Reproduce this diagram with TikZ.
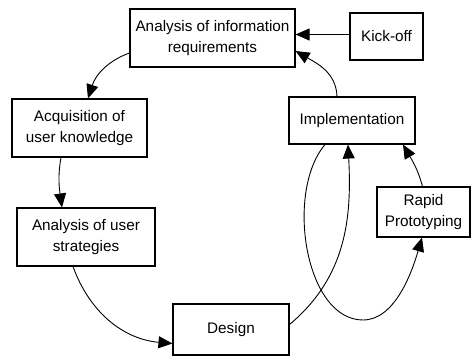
\documentclass[tikz,border=0pt]{standalone}
\usepackage{fontspec}
\setmainfont{Liberation Sans}
\usetikzlibrary{arrows.meta}
\begin{document}
\begin{tikzpicture}[x=1pt,y=1pt,
  box/.style={draw,line width=1.1pt,rectangle,align=center,inner sep=0pt,
    font=\fontsize{15.3}{21}\selectfont},
  conn/.style={line width=0.9pt,-{Triangle[length=14pt,width=12pt]}}]
\useasboundingbox (0,0) rectangle (472,357);
\node[box,minimum width=165pt,minimum height=58pt] (air) at (212.5,319) {Analysis of information\\requirements};
\node[box,minimum width=73pt,minimum height=47pt] (ko) at (386.5,320.5) {Kick-off};
\node[box,minimum width=135pt,minimum height=58pt] (acq) at (79.5,229) {Acquisition of\\user knowledge};
\node[box,minimum width=126pt,minimum height=47pt] (imp) at (352,236.5) {Implementation};
\node[box,minimum width=138pt,minimum height=58pt] (aus) at (86,120) {Analysis of user\\strategies};
\node[box,minimum width=116pt,minimum height=51pt] (des) at (231,27.5) {Design};
\node[box,minimum width=93pt,minimum height=50pt] (rp) at (423.5,145) {Rapid\\Prototyping};
% connectors
\draw[conn] ([yshift=2pt]ko.west) -- ([yshift=2pt]ko.west -| air.east);
\draw[conn] ([xshift=-15pt]imp.north) to[out=92,in=-30] ([yshift=-13pt]air.east);
\draw[conn] ([yshift=-15pt]air.west) to[out=200,in=72] ([xshift=8.5pt]acq.north);
\draw[conn] ([xshift=-18.5pt]acq.south) to[out=-100,in=98] ([xshift=-24pt]aus.north);
\draw[conn] ([xshift=-13pt]aus.south) to[out=-70,in=175] ([yshift=-14pt]des.west);
\draw[conn] ([yshift=5pt]des.east) to[out=40,in=-87] ([xshift=-4pt]imp.south);
\draw[conn] ([xshift=-27pt]imp.south) .. controls (285,165) and (305,37) .. (363,37)
   .. controls (395,37) and (412,85) .. ([xshift=-1.5pt]rp.south);
\draw[conn] ([xshift=-1pt]rp.north) to[out=105,in=-60] ([xshift=51pt]imp.south);
\end{tikzpicture}
\end{document}
